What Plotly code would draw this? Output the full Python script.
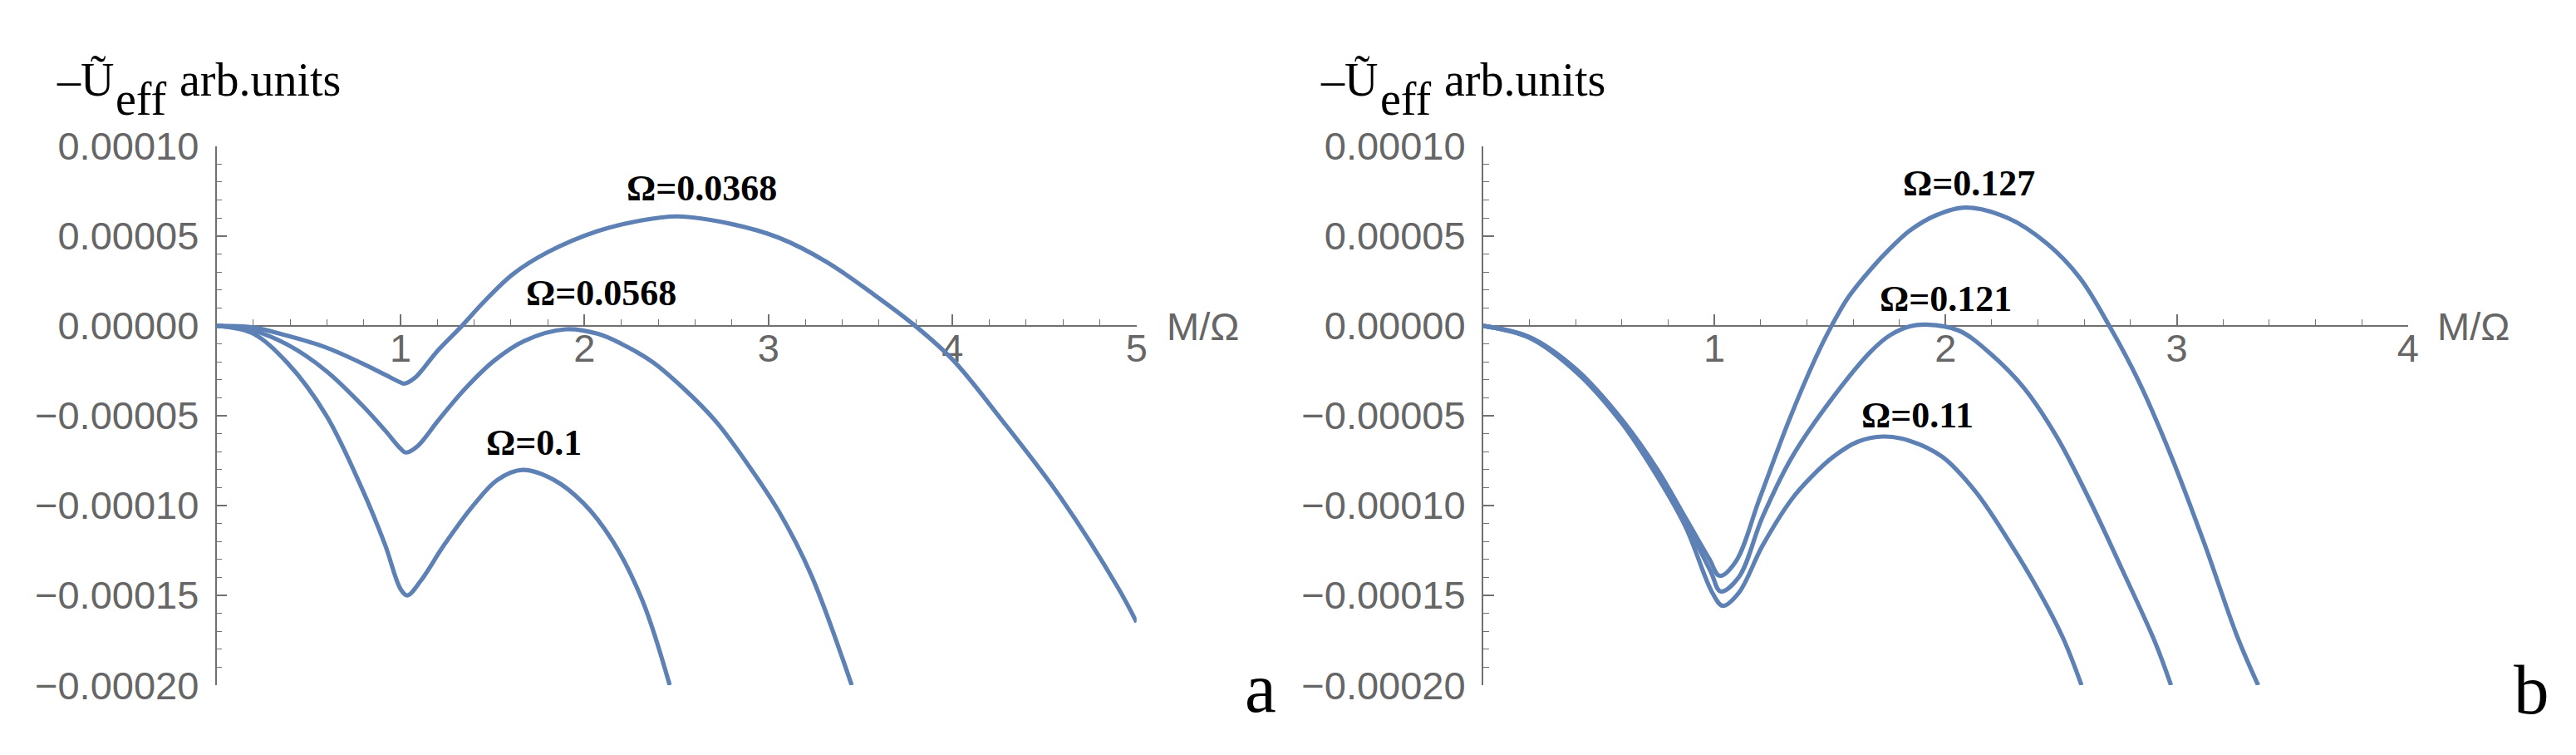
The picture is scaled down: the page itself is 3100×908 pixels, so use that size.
import plotly.graph_objects as go

# ---------------- data ----------------
# panel a
xa_0368 = [0, 0.193, 0.386, 0.595, 0.788, 0.916, 1.0, 1.02, 1.077, 1.206, 1.334, 1.45, 1.61, 1.8, 2.07, 2.3,
           2.506, 2.798, 3.057, 3.315, 3.573, 3.797, 4.003, 4.262, 4.589, 4.899, 5.0]
ya_0368 = [0, -8e-7, -5.5e-6, -1.2e-5, -2.07e-5, -2.72e-5, -3.15e-5, -3.22e-5, -2.9e-5, -1.34e-5, 0,
           1.3e-5, 2.87e-5, 4.1e-5, 5.27e-5, 5.85e-5, 6.09e-5, 5.67e-5, 4.9e-5, 3.56e-5, 1.74e-5, 0,
           -1.91e-5, -5.17e-5, -9.58e-5, -1.457e-4, -1.649e-4]

xa_0568 = [0, 0.193, 0.386, 0.595, 0.788, 0.916, 1.0, 1.029, 1.093, 1.206, 1.35, 1.511, 1.672, 1.897,
           2.074, 2.2, 2.368, 2.54, 2.712, 2.884, 3.057, 3.229, 3.452]
ya_0568 = [0, -2.5e-6, -1.05e-5, -2.5e-5, -4.38e-5, -5.82e-5, -6.83e-5, -7.05e-5, -6.69e-5, -5.25e-5,
           -3.51e-5, -1.92e-5, -8.4e-6, -1.9e-6, -4.5e-6, -1.0e-5, -2.0e-5, -3.5e-5, -5.3e-5,
           -7.66e-5, -1.035e-4, -1.38e-4, -2.0e-4]

xa_01 = [0, 0.193, 0.386, 0.595, 0.788, 0.916, 1.0, 1.037, 1.109, 1.238, 1.399, 1.527, 1.664, 1.833,
         1.994, 2.154, 2.315, 2.463]
ya_01 = [0, -4e-6, -2.07e-5, -4.96e-5, -9.0e-5, -1.218e-4, -1.464e-4, -1.5e-4, -1.42e-4, -1.218e-4,
         -9.95e-5, -8.57e-5, -8.02e-5, -8.57e-5, -9.87e-5, -1.2e-4, -1.53e-4, -2.0e-4]

# panel b
xb_127 = [0, 0.201, 0.405, 0.596, 0.749, 0.876, 0.978, 1.023, 1.093, 1.195, 1.322, 1.437, 1.507, 1.58,
          1.68, 1.76, 1.845, 1.958, 2.086, 2.269, 2.439, 2.581, 2.708, 2.835, 2.977, 3.118, 3.26, 3.352]
yb_127 = [0, -6.3e-6, -2.45e-5, -5.15e-5, -7.9e-5, -1.07e-4, -1.297e-4, -1.391e-4, -1.311e-4, -9.64e-5,
          -5.29e-5, -1.81e-5, 0, 1.6e-5, 3.2e-5, 4.3e-5, 5.3e-5, 6.15e-5, 6.58e-5, 6.0e-5, 4.57e-5,
          2.66e-5, 0, -3.08e-5, -7.29e-5, -1.207e-4, -1.724e-4, -2.0e-4]

xb_121 = [0, 0.201, 0.405, 0.596, 0.749, 0.876, 0.985, 1.027, 1.106, 1.208, 1.335, 1.513, 1.679, 1.76,
          1.845, 1.916, 2.057, 2.199, 2.34, 2.482, 2.623, 2.765, 2.906, 2.975]
yb_121 = [0, -6.5e-6, -2.5e-5, -5.25e-5, -8.1e-5, -1.095e-4, -1.369e-4, -1.478e-4, -1.398e-4, -1.065e-4,
          -7.32e-5, -3.98e-5, -1.4e-5, -5.2e-6, -3e-7, 7e-7, -2.6e-6, -1.6e-5, -3.47e-5, -6.2e-5,
          -9.7e-5, -1.36e-4, -1.76e-4, -2.0e-4]

xb_11 = [0, 0.201, 0.405, 0.596, 0.749, 0.876, 0.991, 1.036, 1.106, 1.208, 1.335, 1.42, 1.513, 1.62, 1.73,
         1.845, 1.986, 2.128, 2.269, 2.411, 2.51, 2.588]
yb_11 = [0, -6.7e-6, -2.6e-5, -5.35e-5, -8.3e-5, -1.12e-4, -1.485e-4, -1.558e-4, -1.485e-4, -1.224e-4,
         -9.64e-5, -8.4e-5, -7.3e-5, -6.45e-5, -6.16e-5, -6.4e-5, -7.29e-5, -9.2e-5, -1.188e-4,
         -1.494e-4, -1.743e-4, -2.0e-4]

# labels
labels_a = ["Ω=0.0368", "Ω=0.0568", "Ω=0.1"]
label_xa = [2.638, 2.089, 1.727]
label_ya = [7.67e-5, 1.82e-5, -6.49e-5]
labels_b = ["Ω=0.127", "Ω=0.121", "Ω=0.11"]
label_xb = [2.103, 1.999, 1.880]
label_yb = [7.91e-5, 1.5e-5, -5.0e-5]

y_ticks = [-0.0002, -0.00015, -0.0001, -0.00005, 0.0, 0.00005, 0.0001]
xa_ticks = [1, 2, 3, 4, 5]
xb_ticks = [1, 2, 3, 4]

# ---------------- styling ----------------
W, H = 3100, 908
LINE = "#5e81b5"
AX = "#707070"
LBL = "#666666"
SANS = "Liberation Sans, Arial, sans-serif"
SERIF = "Liberation Serif, Times New Roman, serif"


def px(x):
    return x / W


def py(y):
    return 1 - y / H


y_dom = [py(838), py(149.5)]
y_zero = y_dom[0] + (2 / 3) * (y_dom[1] - y_dom[0])

fig = go.Figure()
for xs, ys in [(xa_0368, ya_0368), (xa_0568, ya_0568), (xa_01, ya_01)]:
    fig.add_trace(go.Scatter(x=xs, y=ys, mode="lines", xaxis="x", yaxis="y",
                             line=dict(color=LINE, width=5.2, shape="spline", smoothing=1.0),
                             showlegend=False, hoverinfo="skip"))
for xs, ys in [(xb_127, yb_127), (xb_121, yb_121), (xb_11, yb_11)]:
    fig.add_trace(go.Scatter(x=xs, y=ys, mode="lines", xaxis="x2", yaxis="y2",
                             line=dict(color=LINE, width=5.2, shape="spline", smoothing=1.0),
                             showlegend=False, hoverinfo="skip"))


def xaxis_cfg(dom, rng, ticks):
    minor_vals = [round(i * 0.2, 2) for i in range(1, int(rng[1] * 5) + 1)]
    return dict(domain=dom, range=rng, anchor="free", position=y_zero,
                tickmode="array", tickvals=ticks, ticktext=[str(t) for t in ticks],
                ticks="inside", ticklen=13, tickwidth=1.5, tickcolor=AX,
                minor=dict(tickmode="array", tickvals=minor_vals, ticks="inside",
                           ticklen=7, tickwidth=1.2, tickcolor=AX),
                showline=True, linecolor=AX, linewidth=1.5, showgrid=False, zeroline=False,
                tickfont=dict(family=SANS, size=47, color=LBL), ticklabelstandoff=-14,
                layer="below traces", fixedrange=True)


def yaxis_cfg(anchor):
    minor_vals = [round(-0.0002 + i * 0.00001, 6) for i in range(31)]
    return dict(domain=y_dom, range=[-0.0002, 0.0001], anchor=anchor,
                tickmode="array", tickvals=y_ticks, tickformat=".5f",
                ticks="inside", ticklen=13, tickwidth=1.5, tickcolor=AX,
                minor=dict(tickmode="array", tickvals=minor_vals, ticks="inside",
                           ticklen=7, tickwidth=1.2, tickcolor=AX),
                showline=True, linecolor=AX, linewidth=1.5, showgrid=False, zeroline=False,
                tickfont=dict(family=SANS, size=47, color=LBL), ticklabelstandoff=10,
                layer="below traces", fixedrange=True)


annotations = []
for t, x, y in zip(labels_a, label_xa, label_ya):
    annotations.append(dict(text="<b>" + t + "</b>", x=x, y=y, xref="x", yref="y",
                            showarrow=False, xanchor="center", yanchor="middle",
                            font=dict(family=SERIF, size=44, color="black")))
for t, x, y in zip(labels_b, label_xb, label_yb):
    annotations.append(dict(text="<b>" + t + "</b>", x=x, y=y, xref="x2", yref="y2",
                            showarrow=False, xanchor="center", yanchor="middle",
                            font=dict(family=SERIF, size=44, color="black")))

for off in [0, 1528]:
    for txt, left, cy in [("–Ũ", 58, 65), ("eff", 130, 89), ("arb.units", 207, 65)]:
        annotations.append(dict(text=txt, x=px(left + off), y=py(cy), xref="paper", yref="paper",
                                showarrow=False, xanchor="left", yanchor="middle",
                                font=dict(family=SERIF, size=56, color="black")))

for left in [1400, 2935]:
    annotations.append(dict(text="M/Ω", x=px(left), y=py(380), xref="paper", yref="paper",
                            showarrow=False, xanchor="left", yanchor="middle",
                            font=dict(family=SANS, size=47, color=LBL)))

for txt, left, cy in [("a", 1494, 841), ("b", 3028, 843)]:
    annotations.append(dict(text=txt, x=px(left), y=py(cy), xref="paper", yref="paper",
                            showarrow=False, xanchor="left", yanchor="middle",
                            font=dict(family=SERIF, size=85, color="black")))

fig.update_layout(
    width=W, height=H, autosize=False,
    margin=dict(l=0, r=0, t=0, b=0),
    paper_bgcolor="white", plot_bgcolor="white",
    xaxis=xaxis_cfg([px(253.6), px(1365.5)], [0, 5], xa_ticks),
    yaxis=yaxis_cfg("x"),
    xaxis2=xaxis_cfg([px(1784.3), px(2902)], [0, 4], xb_ticks),
    yaxis2=yaxis_cfg("x2"),
    annotations=annotations,
)

fig.write_html("out.html")
